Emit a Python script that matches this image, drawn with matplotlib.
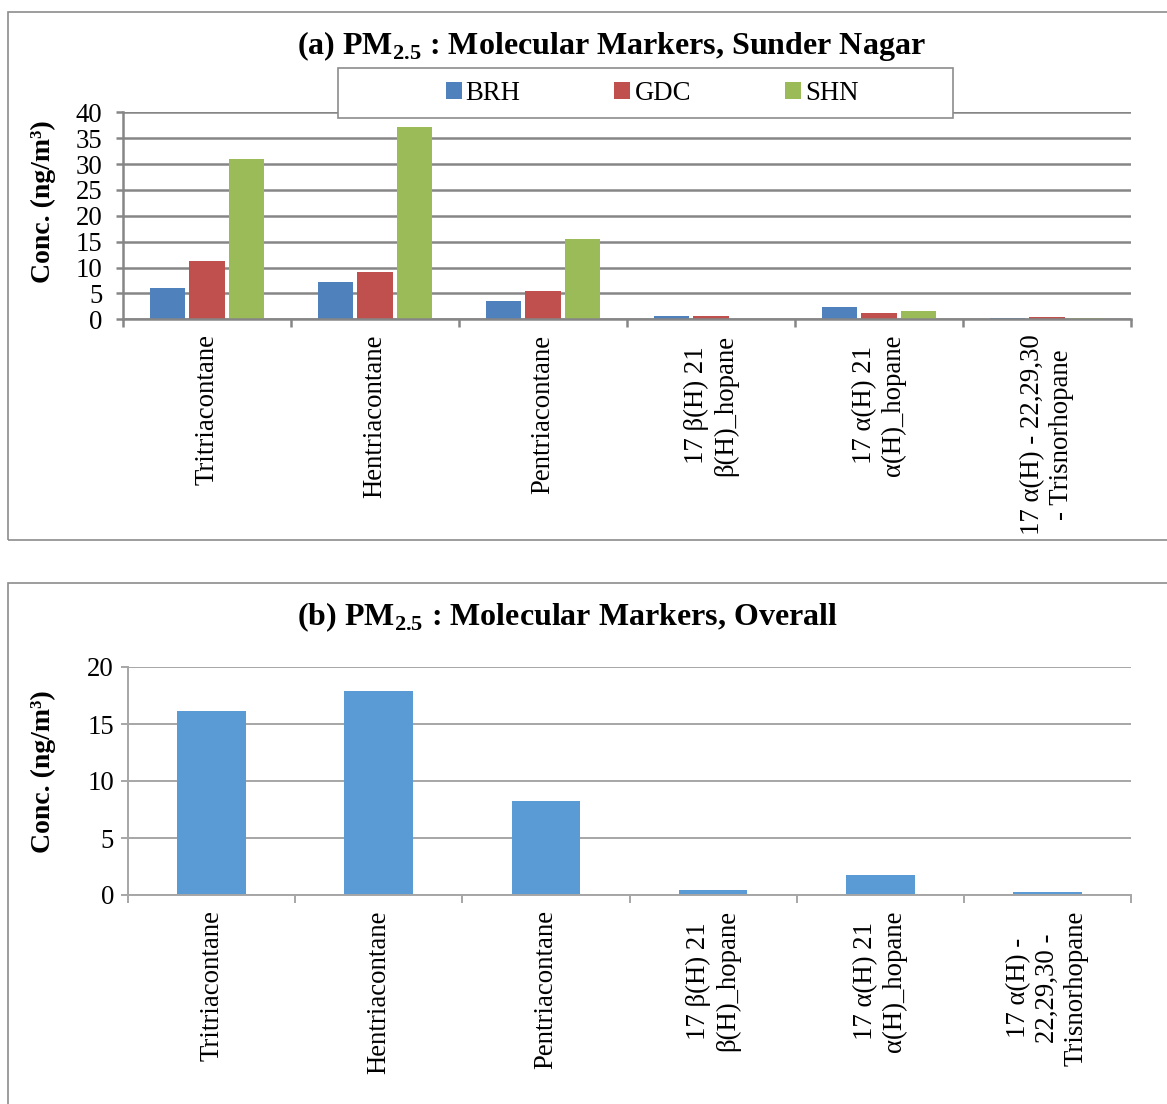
import matplotlib.pyplot as plt
from matplotlib.patches import Rectangle

plt.rcParams['font.family'] = ['Liberation Serif', 'DejaVu Serif']
plt.rcParams['mathtext.fontset'] = 'custom'
plt.rcParams['mathtext.rm'] = 'Liberation Serif'
plt.rcParams['mathtext.bf'] = 'Liberation Serif:bold'

# --- values ---
labels_a = ['Tritriacontane', 'Hentriacontane', 'Pentriacontane',
            '17 β(H) 21\nβ(H)_hopane', '17 α(H) 21\nα(H)_hopane',
            '17 α(H) - 22,29,30\n- Trisnorhopane']
labels_b = ['Tritriacontane', 'Hentriacontane', 'Pentriacontane',
            '17 β(H) 21\nβ(H)_hopane', '17 α(H) 21\nα(H)_hopane',
            '17 α(H) -\n22,29,30 -\nTrisnorhopane']
sites = ['BRH', 'GDC', 'SHN']
brh = [6.1, 7.3, 3.5, 0.7, 2.3, 0.3]
gdc = [11.2, 9.1, 5.5, 0.6, 1.3, 0.5]
shn = [31.0, 37.1, 15.5, 0.0, 1.7, 0.3]
overall = [16.1, 17.9, 8.25, 0.45, 1.75, 0.3]

site_colors = ['#4F81BD', '#C0504D', '#9BBB59']
FS = 19.3
TFS = 23

fig = plt.figure(figsize=(11.67, 11.04), dpi=100)
W, H = 1167, 1104

# panel frames
fig.patches.append(Rectangle((8 / W, 1 - 540 / H), 1.2, (540 - 12) / H,
                             transform=fig.transFigure, fill=False,
                             edgecolor='#8c8c8c', lw=1.2))
fig.patches.append(Rectangle((8 / W, -0.1), 1.2, 0.1 + (1104 - 583) / H,
                             transform=fig.transFigure, fill=False,
                             edgecolor='#8c8c8c', lw=1.2))


def style_axis(ax, grid_col, grid_lw, pad_y):
    ax.set_xlim(-0.5, 5.5)
    for s in ['top', 'right']:
        ax.spines[s].set_visible(False)
    for s in ['left', 'bottom']:
        ax.spines[s].set_color(grid_col)
        ax.spines[s].set_linewidth(grid_lw)
    ax.yaxis.grid(True, color=grid_col, lw=grid_lw)
    ax.set_axisbelow(True)
    ax.set_xticks(range(6))
    ax.set_xticks([i - 0.5 for i in range(7)], minor=True)
    ax.tick_params(axis='x', which='major', length=0, pad=11)
    ax.tick_params(axis='x', which='minor', length=6, color=grid_col, width=grid_lw)
    ax.tick_params(axis='y', length=5, color=grid_col, width=grid_lw,
                   labelsize=FS, pad=pad_y)


# --- (a) Sunder Nagar ---
ax1 = fig.add_axes([123 / W, 1 - 319.3 / H, (1131 - 123) / W, (319.3 - 112.3) / H])
x = range(len(labels_a))
off = 0.234
for k, (vals, col) in enumerate(zip([brh, gdc, shn], site_colors)):
    ax1.bar([i + (k - 1) * off for i in x], vals, width=0.212, color=col,
            label=sites[k])
ax1.set_ylim(0, 40)
ax1.set_yticks(range(0, 41, 5))
style_axis(ax1, '#868686', 1.8, 10)
ax1.set_xticklabels(labels_a, rotation=90, va='top', ha='center',
                    multialignment='center', fontsize=FS)
ax1.set_ylabel('Conc. (ng/m³)', fontsize=20, fontweight='bold')
ax1.yaxis.set_label_coords(-0.066, 0.57)

fig.text(611 / W, 1 - 46 / H,
         r'(a) PM$_{\mathbf{2.5}}$ : Molecular Markers, Sunder Nagar',
         ha='center', va='center', fontsize=TFS, fontweight='bold')

# legend with wide frame
fig.patches.append(Rectangle((338 / W, 1 - 118 / H), (953 - 338) / W, 50 / H,
                             transform=fig.transFigure, facecolor='white',
                             edgecolor='#8c8c8c', lw=1.2, zorder=5))
leg = fig.legend(loc='center', bbox_to_anchor=(652 / W, 1 - 93 / H), ncol=3,
                 frameon=False, fontsize=FS, handlelength=0.6, handleheight=0.6,
                 handletextpad=0.15, columnspacing=3.5)
leg.set_zorder(6)

# --- (b) Overall ---
ax2 = fig.add_axes([128 / W, 1 - 895 / H, (1131 - 128) / W, (895 - 667) / H])
ax2.bar(range(len(labels_b)), overall, width=0.41, color='#5B9BD5')
ax2.set_ylim(0, 20)
ax2.set_yticks(range(0, 21, 5))
style_axis(ax2, '#a6a6a6', 1.4, 5)
ax2.set_xticklabels(labels_b, rotation=90, va='top', ha='center',
                    multialignment='center', fontsize=FS)
ax2.set_ylabel('Conc. (ng/m³)', fontsize=20, fontweight='bold')
ax2.yaxis.set_label_coords(-0.072, 0.54)

fig.text(567 / W, 1 - 617 / H,
         r'(b) PM$_{\mathbf{2.5}}$ : Molecular Markers, Overall',
         ha='center', va='center', fontsize=TFS, fontweight='bold')

fig.savefig('out.png', dpi=100)
